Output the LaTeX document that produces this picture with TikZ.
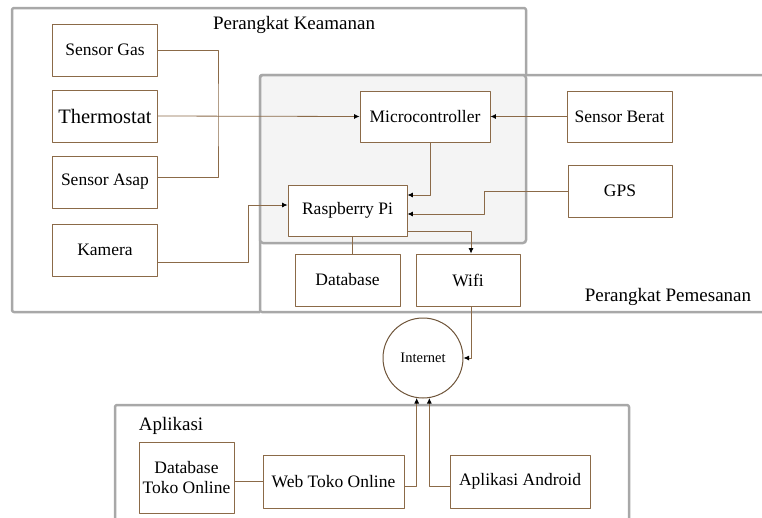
\documentclass[tikz,border=0pt]{standalone}
\usepackage{fontspec}
\setmainfont{Liberation Serif}
\usetikzlibrary{arrows.meta}
\definecolor{garis}{RGB}{139,106,72}
\definecolor{bingkai}{RGB}{168,168,168}
\definecolor{abu}{RGB}{244,244,244}
\tikzset{
  kotak/.style={draw=garis,fill=white,line width=0.9pt,inner sep=0pt,align=center,
    minimum width=105,minimum height=52,font=\fontsize{17.5}{20}\selectfont},
  hubung/.style={draw=garis,line width=0.8pt},
  panah/.style={hubung,-{Latex[length=5.5pt,width=5pt,color=black]}},
  frame/.style={draw=bingkai,line width=2.5pt,rounded corners=2pt}
}
\begin{document}
\begin{tikzpicture}[x=1pt,y=-1pt,line join=round,font=\fontsize{19}{22}\selectfont]
\useasboundingbox (0,0) rectangle (762,517);
% bingkai perangkat
\draw[frame] (260,312)--(12,312)--(12,8)--(526,8)--(526,75);
\draw[frame] (260,75) rectangle (790,312);
\draw[frame,fill=abu,rounded corners=3pt] (260,75) rectangle (526,243);
\draw[frame] (115,405) rectangle (629,540);
\node (keamanan) at (294,25) {Perangkat Keamanan};
\node (pemesanan) at (668,297) {Perangkat Pemesanan};
\node (aplikasi) at (171,426) {Aplikasi};
% sensor keamanan
\foreach \n/\y/\t in {gas/50/Sensor Gas,thermo/116/{\fontsize{20.5}{22}\selectfont Thermostat},asap/182/Sensor Asap,kamera/250/Kamera}
  {\node[kotak] (\n) at (105,\y) {\t};}
\node[kotak,minimum width=130,minimum height=51] (mc) at (425,116.5) {Microcontroller};
\node[kotak,minimum height=51] (berat) at (619.5,116.5) {Sensor Berat};
\node[kotak,minimum width=104] (gps) at (620,191) {GPS};
\node[kotak,minimum width=119,minimum height=51] (rpi) at (347.5,210.5) {Raspberry Pi};
\node[kotak] (db) at (347.5,280) {Database};
\node[kotak,minimum width=104] (wifi) at (468,280) {Wifi};
\node[draw=garis!80!black,fill=white,circle,line width=1pt,minimum size=80,inner sep=0pt,
  font=\fontsize{14.5}{16}\selectfont] (internet) at (423,358) {Internet};
% aplikasi
\node[kotak,minimum width=95,minimum height=71] (dbtoko) at (186.5,477.5) {Database\\Toko Online};
\node[kotak,minimum width=141,minimum height=53] (web) at (333.5,481.5) {Web Toko Online};
\node[kotak,minimum width=140,minimum height=53] (android) at (520,481.5) {Aplikasi Android};
\coordinate (bus) at (218,116);
% hubungan
\draw[hubung] (gas.east) -| (bus) |- ([yshift=5pt]asap.east);
\draw[panah] (thermo.east) -- (mc.west);
\draw[panah] (berat.west) -- (mc.east);
\draw[panah] ([yshift=-12pt]kamera.east) -- ++(90,0) |- ([yshift=5.5pt]rpi.west);
\draw[panah] ([xshift=5pt]mc.south) |- ([yshift=15.5pt]rpi.east);
\draw[panah] (gps.west) -- ++(-83,0) |- ([yshift=-3.5pt]rpi.east);
\draw[panah] ([yshift=-20.5pt]rpi.east) -| ([xshift=3pt]wifi.north);
\draw[hubung] ([xshift=4.5pt]rpi.south) -- ([xshift=4.5pt]db.north);
\draw[panah] ([xshift=3pt]wifi.south) |- (internet.east);
\draw[panah] ([yshift=-4.5pt]web.east) -| (internet.261);
\draw[panah] ([yshift=-4.5pt]android.west) -| (internet.279);
\draw[hubung] (web.west) -- (web.west -| dbtoko.east);
\end{tikzpicture}
\end{document}
